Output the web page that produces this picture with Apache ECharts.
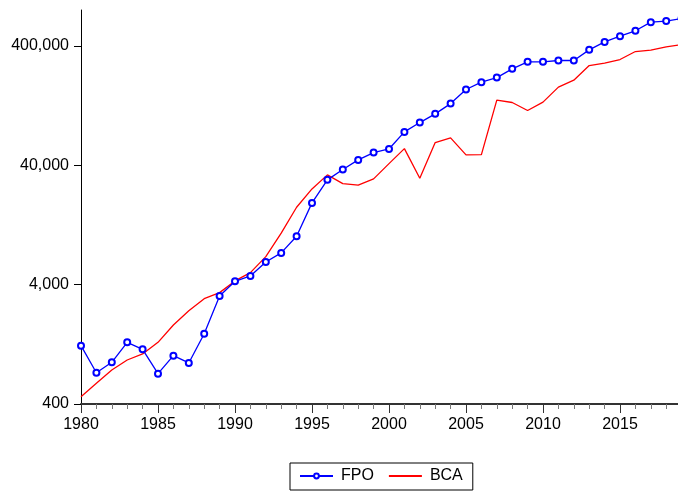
<!DOCTYPE html>
<html>
<head>
<meta charset="utf-8">
<script src="https://cdn.jsdelivr.net/npm/echarts@6/dist/echarts.min.js"></script>
<style>
html, body { margin: 0; padding: 0; background: #fff; }
#myChart { width: 678px; height: 491px; }
</style>
</head>
<body>
<div id="myChart"></div>
<script>
var years = [];
for (var y = 1980; y <= 2019; y++) {
	years.push(y);
}

var fpo = [1233, 731, 894, 1315, 1149, 718, 1016, 883, 1553, 3216,
	4267, 4731, 6197, 7380, 10170, 19370, 30200, 36840, 44360, 51150,
	54800, 76200, 91200, 107900, 131500, 172500, 198700, 217300, 257000, 294400,
	294400, 302000, 302000, 370800, 432500, 483200, 535600, 632700, 645700, 679000];

var bca = [460, 596, 771, 935, 1050, 1315, 1836, 2421, 3053, 3428,
	4296, 5042, 6866, 10790, 17810, 25360, 33240, 28100, 27250, 30770,
	41300, 55200, 31170, 62000, 67900, 48900, 49200, 140600, 134300, 115000,
	135200, 180600, 206600, 274000, 287000, 307600, 359000, 368900, 393400, 410000];

var yTickLabels = ['400', '4,000', '40,000', '400,000'];
var xTickLabels = [1980, 1985, 1990, 1995, 2000, 2005, 2010, 2015];

var Chart = {};
Chart.base = 400;
Chart.top = 800000;

// log10 relative to 400 so that the ticks land on 400, 4,000, ...
Chart.toLog = function(v) {
	return Math.log10(v / Chart.base);
};

Chart.pairs = function(values) {
	var out = [];
	for (var i = 0; i < values.length; i++) {
		out.push([years[i], Chart.toLog(values[i])]);
	}
	return out;
};

Chart.init = function() {
	var myChart = echarts.init(document.getElementById('myChart'), null, { renderer: 'canvas' });
	var font = 'Liberation Sans, Arial, sans-serif';
	var majors = [0, 1, 2, 3];

	var option = {
		animation: false,
		textStyle: { fontFamily: font },
		// 2020 sits past the right edge of the picture
		grid: { left: 81, width: 616, top: 10, bottom: 87, containLabel: false, outerBoundsMode: 'none' },
		legend: {
			data: [
				{ name: 'FPO' },
				{ name: 'BCA', itemStyle: { opacity: 0 } }
			],
			left: 290,
			top: 463,
			orient: 'horizontal',
			borderColor: '#000',
			borderWidth: 1,
			borderRadius: 0,
			padding: [5, 10, 6, 9],
			itemWidth: 33,
			itemHeight: 6,
			itemGap: 14,
			textStyle: { fontSize: 16, color: '#000', fontFamily: font, padding: [0, 0, 0, 3] }
		},
		xAxis: {
			type: 'value',
			min: 1980,
			max: 2020,
			interval: 5,
			axisLine: { show: true, onZero: false, lineStyle: { color: '#333', width: 2 } },
			axisTick: { show: true, inside: false, length: 9, lineStyle: { color: '#333', width: 1 } },
			minorTick: { show: true, splitNumber: 5, length: 5, lineStyle: { color: '#777', width: 1 } },
			axisLabel: {
				customValues: xTickLabels,
				margin: 13,
				fontSize: 16,
				color: '#000',
				fontFamily: font,
				formatter: function(v) { return String(v); }
			},
			splitLine: { show: false }
		},
		yAxis: {
			type: 'value',
			min: 0,
			max: Chart.toLog(Chart.top),
			axisLine: { show: true, lineStyle: { color: '#000', width: 1 } },
			axisTick: { show: true, inside: false, length: 7, customValues: majors, lineStyle: { color: '#000' } },
			axisLabel: {
				customValues: majors,
				margin: 12,
				fontSize: 16,
				color: '#000',
				fontFamily: font,
				formatter: function(v) { return yTickLabels[Math.round(v)]; }
			},
			splitLine: { show: false }
		},
		series: [{
			name: 'FPO',
			type: 'line',
			data: Chart.pairs(fpo),
			symbol: 'emptyCircle',
			symbolSize: 6,
			showSymbol: true,
			lineStyle: { color: '#0000ff', width: 1.3 },
			itemStyle: { color: '#0000ff', borderColor: '#0000ff', borderWidth: 1 },
			z: 3
		}, {
			name: 'BCA',
			type: 'line',
			data: Chart.pairs(bca),
			symbol: 'none',
			showSymbol: false,
			lineStyle: { color: '#ff0000', width: 1.3 },
			itemStyle: { color: '#ff0000' },
			z: 2
		}]
	};

	myChart.setOption(option);
};

Chart.init();
</script>
</body>
</html>
